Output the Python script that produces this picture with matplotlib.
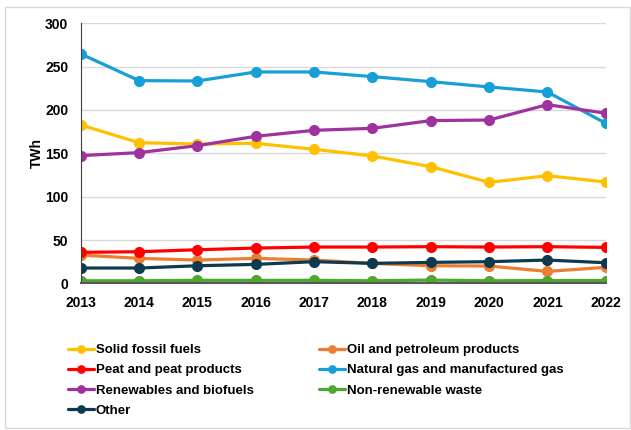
import matplotlib.pyplot as plt
from matplotlib.patches import Rectangle

years = [2013, 2014, 2015, 2016, 2017, 2018, 2019, 2020, 2021, 2022]

solid_fossil = [182.7, 162.2, 160.7, 161.5, 154.6, 146.9, 134.6, 116.5, 124.2, 116.9]
oil_petroleum = [32.7, 28.8, 26.9, 28.8, 26.9, 23.0, 20.3, 20.0, 13.8, 18.5]
peat = [35.8, 36.5, 38.8, 40.7, 41.9, 41.9, 42.3, 41.9, 42.3, 41.5]
natural_gas = [264.6, 233.8, 233.4, 243.8, 243.8, 238.4, 232.6, 226.5, 220.7, 184.6]
renewables = [147.3, 150.8, 158.8, 169.6, 176.5, 178.8, 187.7, 188.4, 206.1, 196.2]
nonrenew_waste = [3.0, 3.0, 3.5, 3.5, 3.5, 3.0, 3.8, 3.0, 3.2, 3.2]
other = [17.7, 17.7, 20.3, 21.9, 25.0, 23.1, 24.2, 25.0, 26.9, 23.8]

series = [
    ("Solid fossil fuels", solid_fossil, "#FFC000"),
    ("Oil and petroleum products", oil_petroleum, "#ED7D31"),
    ("Peat and peat products", peat, "#FF0000"),
    ("Natural gas and manufactured gas", natural_gas, "#17A0D8"),
    ("Renewables and biofuels", renewables, "#A0329E"),
    ("Non-renewable waste", nonrenew_waste, "#4EA72E"),
    ("Other", other, "#0E3A4F"),
]

y_ticks = [0, 50, 100, 150, 200, 250, 300]

plt.rcParams['font.family'] = ['Liberation Sans', 'DejaVu Sans']
plt.rcParams['font.weight'] = 'bold'

fig = plt.figure(figsize=(6.31, 4.30), dpi=100)
ax = fig.add_axes([0.128, 0.341, 0.832, 0.605])

# chart frame
fig.patches.append(Rectangle((0.008, 0.005), 0.99, 0.979, transform=fig.transFigure,
                             fill=False, edgecolor="#d9d9d9", linewidth=1))

lines = []
for name, vals, col in series:
    ln, = ax.plot(years, vals, color=col, linewidth=2.3, marker="o", markersize=7,
                  label=name, solid_capstyle="round")
    lines.append(ln)

ax.set_xlim(2013, 2022)
ax.set_ylim(0, 300)
ax.set_yticks(y_ticks)
ax.set_xticks(years)
ax.grid(axis="y", color="#d9d9d9", linewidth=1)
ax.set_axisbelow(True)
for s in ["top", "right"]:
    ax.spines[s].set_visible(False)
ax.spines["left"].set_color("#404040")
ax.spines["bottom"].set_color("#595959")
ax.spines["bottom"].set_linewidth(1.5)
ax.tick_params(length=0, labelsize=10, pad=9)
ax.tick_params(axis="y", pad=9)
ax.set_ylabel("TWh", fontsize=10, fontweight="bold", labelpad=1)

# two legend columns, filled row by row
leg_kw = dict(loc="upper left", frameon=False, fontsize=9.5, handlelength=2.0,
              handletextpad=0.15, labelspacing=0.6, borderaxespad=0, borderpad=0,
              markerscale=0.75)
left_idx = [0, 2, 4, 6]
right_idx = [1, 3, 5]
fig.legend([lines[i] for i in left_idx], [series[i][0] for i in left_idx],
           bbox_to_anchor=(0.107, 0.200), **leg_kw)
fig.legend([lines[i] for i in right_idx], [series[i][0] for i in right_idx],
           bbox_to_anchor=(0.505, 0.200), **leg_kw)

fig.savefig("out.png", dpi=100)
